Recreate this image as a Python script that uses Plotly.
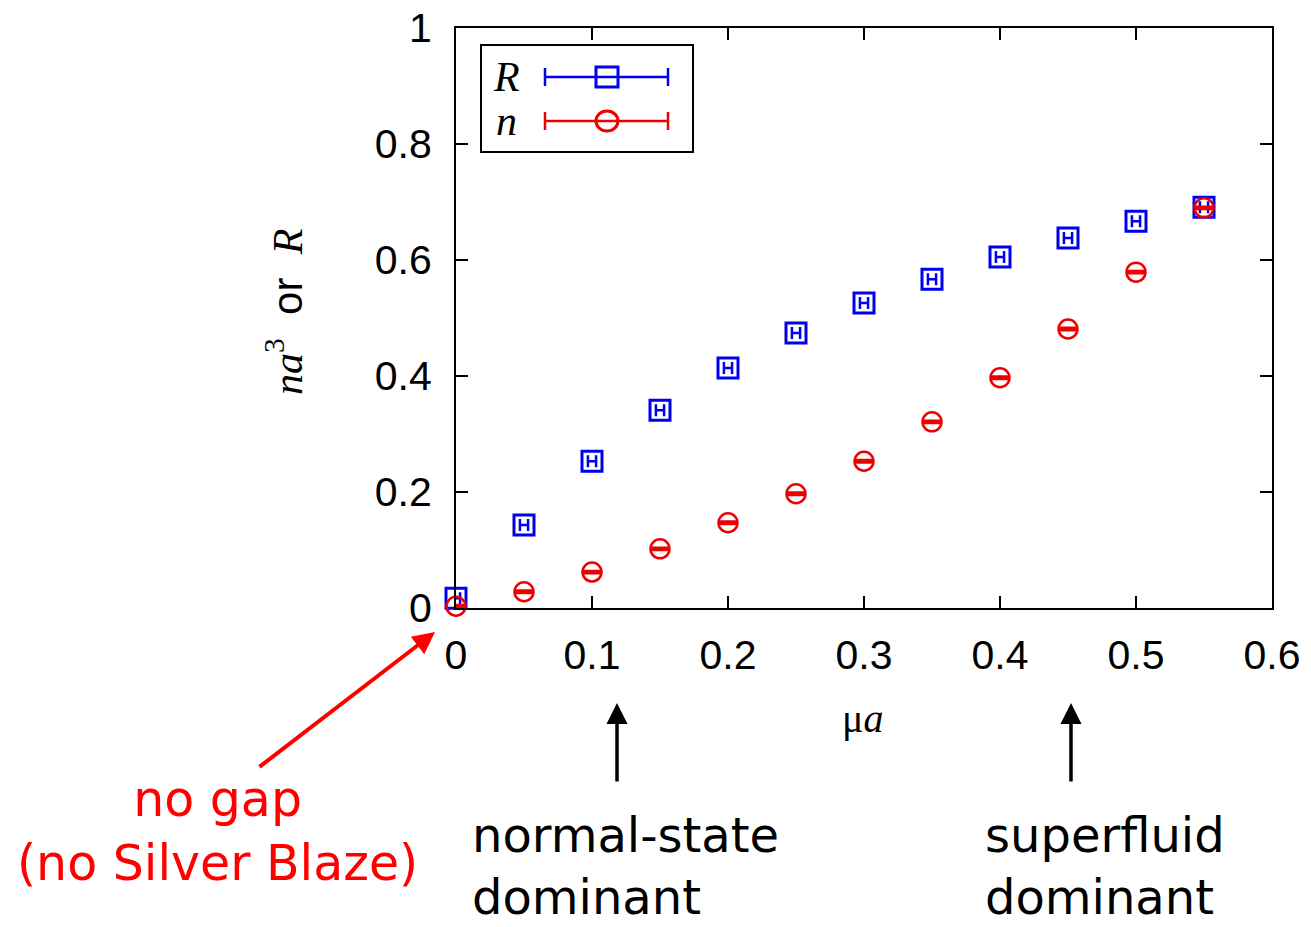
import plotly.graph_objects as go

mu = [0.0, 0.05, 0.10, 0.15, 0.20, 0.25, 0.30, 0.35, 0.40, 0.45, 0.50, 0.55]
R_vals = [0.017, 0.143, 0.253, 0.341, 0.414, 0.474, 0.526, 0.567, 0.605, 0.638, 0.667, 0.691]
n_vals = [0.003, 0.028, 0.062, 0.102, 0.147, 0.197, 0.253, 0.321, 0.397, 0.481, 0.579, 0.690]
R_err = [0.003] * len(mu)
n_err = [0.002] * len(mu)

x_ticks = [0, 0.1, 0.2, 0.3, 0.4, 0.5, 0.6]
x_ticklabels = ["0", "0.1", "0.2", "0.3", "0.4", "0.5", "0.6"]
y_ticks = [0, 0.2, 0.4, 0.6, 0.8, 1]
y_ticklabels = ["0", "0.2", "0.4", "0.6", "0.8", "1"]

BLUE = "#0000ee"
RED = "#ee0000"

fig = go.Figure()
fig.add_trace(go.Scatter(
    x=mu, y=R_vals, mode="markers", name="R", cliponaxis=False,
    marker=dict(symbol="square-open", size=20, color=BLUE, line=dict(width=3, color=BLUE)),
    error_x=dict(type="data", array=R_err, color=BLUE, thickness=2.5, width=6),
    showlegend=False,
))
fig.add_trace(go.Scatter(
    x=mu, y=n_vals, mode="markers", name="n", cliponaxis=False,
    marker=dict(symbol="circle-open", size=19, color=RED, line=dict(width=2.5, color=RED)),
    error_y=dict(type="data", array=n_err, color=RED, thickness=2.5, width=9),
    showlegend=False,
))

axis_common = dict(
    showline=True, linecolor="black", linewidth=2, mirror="allticks",
    ticks="inside", ticklen=12, tickwidth=2, tickcolor="black",
    showgrid=False, zeroline=False, automargin=False,
    tickfont=dict(family="Liberation Sans, Arial, sans-serif", size=41, color="black"),
)
fig.update_xaxes(range=[0, 0.6], tickvals=x_ticks, ticktext=x_ticklabels,
                 ticklabelstandoff=10, **axis_common)
fig.update_yaxes(range=[0, 1], tickvals=y_ticks, ticktext=y_ticklabels,
                 ticklabelstandoff=14, **axis_common)

L, T, W, H = 456, 28, 816, 580
def px(xp):
    return (xp - L) / W
def py(yp):
    return (T + H - yp) / H

shapes = []
annotations = []

# Legend (manual, gnuplot style)
shapes.append(dict(type="rect", xref="paper", yref="paper",
                   x0=px(481), x1=px(693), y0=py(152), y1=py(45),
                   line=dict(color="black", width=2), fillcolor="white", layer="above"))
for yrow, col, sym, label in [(77, BLUE, "square", "R"), (121, RED, "circle", "n")]:
    shapes.append(dict(type="line", xref="paper", yref="paper",
                       x0=px(545), x1=px(668), y0=py(yrow), y1=py(yrow),
                       line=dict(color=col, width=2.5), layer="above"))
    for xc in (545, 668):
        shapes.append(dict(type="line", xref="paper", yref="paper",
                           x0=px(xc), x1=px(xc), y0=py(yrow - 9), y1=py(yrow + 9),
                           line=dict(color=col, width=2.5), layer="above"))
    shapes.append(dict(type="rect" if sym == "square" else "circle",
                       xref="paper", yref="paper",
                       x0=px(596), x1=px(618), y0=py(yrow + 10), y1=py(yrow - 10),
                       line=dict(color=col, width=3), fillcolor="rgba(0,0,0,0)", layer="above"))
    annotations.append(dict(xref="paper", yref="paper", x=px(506), y=py(yrow),
                            text="<i>%s</i>" % label, showarrow=False,
                            font=dict(family="Liberation Serif, DejaVu Serif, serif", size=42, color="black"),
                            xanchor="center", yanchor="middle"))

# Axis titles
annotations.append(dict(xref="paper", yref="paper", x=px(862), y=py(718),
                        text="\u03bc<i>a</i>", showarrow=False,
                        font=dict(family="Liberation Serif, DejaVu Serif, serif", size=40, color="black"),
                        xanchor="center", yanchor="middle"))
annotations.append(dict(xref="paper", yref="paper", x=px(284), y=py(312),
                        text="<span style=\"font-family:'Liberation Serif', serif\"><i>na</i><sup>3</sup></span>  or  <span style=\"font-family:'Liberation Serif', serif\"><i>R</i></span>",
                        textangle=-90, showarrow=False,
                        font=dict(family="Liberation Sans, Arial, sans-serif", size=42, color="black"),
                        xanchor="center", yanchor="middle"))

# Arrows
annotations.append(dict(xref="paper", yref="paper", x=px(435), y=py(632),
                        ax=258 - 435, ay=768 - 632, axref="pixel", ayref="pixel",
                        text="", showarrow=True, arrowhead=2, arrowsize=1.1,
                        arrowwidth=4, arrowcolor="#ff0000"))
for xc in (617, 1071):
    annotations.append(dict(xref="paper", yref="paper", x=px(xc), y=py(703),
                            ax=0, ay=80, text="", showarrow=True, arrowhead=2,
                            arrowsize=1.2, arrowwidth=3.5, arrowcolor="black"))

ann_font = "DejaVu Sans, Noto Sans, sans-serif"
annotations.append(dict(xref="paper", yref="paper", x=px(217), y=py(832),
                        text="no gap<br>(no Silver Blaze)", showarrow=False, align="center",
                        font=dict(family=ann_font, size=49, color="#ff0000"),
                        xanchor="center", yanchor="middle"))
annotations.append(dict(xref="paper", yref="paper", x=px(470), y=py(866),
                        text="normal-state<br>dominant", showarrow=False, align="left",
                        font=dict(family=ann_font, size=48, color="black"),
                        xanchor="left", yanchor="middle"))
annotations.append(dict(xref="paper", yref="paper", x=px(983), y=py(866),
                        text="superfluid<br>dominant", showarrow=False, align="left",
                        font=dict(family=ann_font, size=48, color="black"),
                        xanchor="left", yanchor="middle"))

fig.update_layout(
    width=1311, height=927,
    margin=dict(l=L, r=1311 - L - W, t=T, b=927 - T - H, autoexpand=False),
    plot_bgcolor="white", paper_bgcolor="white",
    shapes=shapes, annotations=annotations,
    showlegend=False,
)

fig.write_html("out.html")
